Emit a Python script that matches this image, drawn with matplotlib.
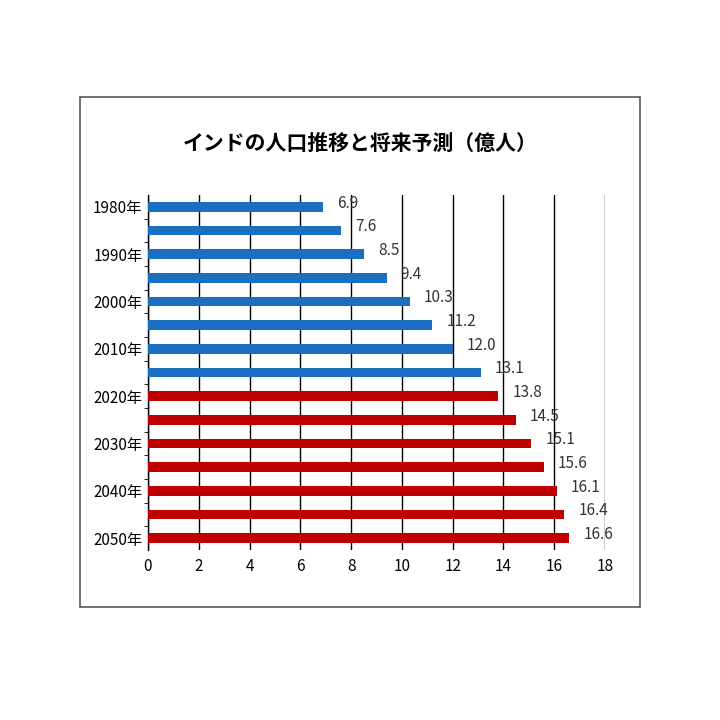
import matplotlib.pyplot as plt
from matplotlib.patches import Rectangle

plt.rcParams['font.family'] = ['Noto Sans CJK JP', 'DejaVu Sans']

years = [1980, 1985, 1990, 1995, 2000, 2005, 2010, 2015,
         2020, 2025, 2030, 2035, 2040, 2045, 2050]
population = [6.9, 7.6, 8.5, 9.4, 10.3, 11.2, 12.0, 13.1,
              13.8, 14.5, 15.1, 15.6, 16.1, 16.4, 16.6]
year_labels = [f"{y}年" if y % 10 == 0 else "" for y in years]

fig = plt.figure(figsize=(7.2, 7.2), dpi=100)
fig.patches.append(Rectangle((80 / 720, 1 - 607 / 720), 560 / 720, 510 / 720,
                             transform=fig.transFigure, fill=False,
                             edgecolor='#555555', linewidth=1.2))
fig.text(0.5, 1 - 143 / 720, 'インドの人口推移と将来予測（億人）',
         ha='center', va='center', fontsize=15, fontweight='bold')

ax = fig.add_axes([148 / 720, 1 - 550 / 720, 457 / 720, 355 / 720])
pos = list(range(len(years)))
colors = ['#1a6fc0' if y < 2020 else '#c00000' for y in years]
ax.barh(pos, population, height=0.42, color=colors, zorder=3)
for p, v in zip(pos, population):
    ax.text(v + 0.55, p - 0.15, f"{v:.1f}", va='center', ha='left',
            fontsize=11, color='#333333', zorder=4)

ax.set_xlim(0, 18)
ax.set_ylim(len(years) - 0.5, -0.5)
ax.set_xticks(range(0, 19, 2))
ax.set_yticks(pos)
ax.set_yticklabels(year_labels, fontsize=11)
ax.set_yticks([p + 0.5 for p in pos[:-1]], minor=True)
ax.tick_params(axis='y', which='major', length=0, pad=4)
ax.tick_params(axis='y', which='minor', length=3, direction='out')
ax.tick_params(axis='x', length=0, labelsize=11, pad=6)
ax.grid(axis='x', color='black', linewidth=1, zorder=0)
for s in ['top', 'right', 'bottom']:
    ax.spines[s].set_visible(False)
ax.spines['left'].set_linewidth(1)

fig.savefig('out.png', dpi=100)
